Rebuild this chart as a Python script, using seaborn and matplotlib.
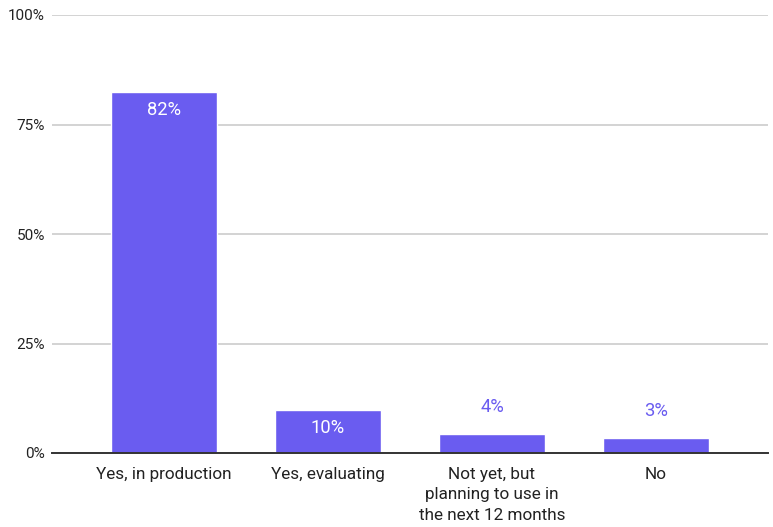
import matplotlib
matplotlib.use("Agg")
import matplotlib.pyplot as plt
import seaborn as sns
from matplotlib.ticker import PercentFormatter

sns.set_theme(style="white")
plt.rcParams['font.family'] = ['Roboto', 'DejaVu Sans']

# Data
categories = ["Yes, in production", "Yes, evaluating",
              "Not yet, but\nplanning to use in\nthe next 12 months", "No"]
shares = [82.4, 9.8, 4.3, 3.4]
bar_color = "#6a5cf0"

fig = plt.figure(figsize=(7.73, 5.27), dpi=100)
ax = fig.add_axes([52 / 773, 74 / 527, 716 / 773, 438 / 527])

sns.barplot(x=categories, y=shares, color=bar_color, saturation=1,
            width=0.646, ax=ax)

ax.set_ylim(0, 100)
ax.set_xlim(-0.683, 3.683)
ax.set_yticks([0, 25, 50, 75, 100])
ax.yaxis.set_major_formatter(PercentFormatter(decimals=0))
ax.grid(axis="y", color="#cccccc", linewidth=1.2)
ax.set_axisbelow(True)
for side in ["left", "right", "top"]:
    ax.spines[side].set_visible(False)
ax.spines["bottom"].set_color("#333333")
ax.spines["bottom"].set_linewidth(1.4)
ax.spines["bottom"].set_zorder(3)
ax.tick_params(axis="y", length=0, pad=5, labelsize=11, labelcolor="#222222")
ax.tick_params(axis="x", length=0, pad=10, labelsize=12.3, labelcolor="#222222")
for lbl in ax.get_xticklabels():
    lbl.set_linespacing(1.45)
ax.set_xlabel("")
ax.set_ylabel("")

# Value labels: inside for tall bars, above for short ones
for i, v in enumerate(shares):
    if v > 8:
        ax.annotate(f"{v:.0f}%", (i, v), xytext=(0, -18), textcoords="offset pixels",
                    ha="center", va="center", color="white", fontsize=13.2)
    else:
        ax.annotate(f"{v:.0f}%", (i, v), xytext=(0, 27), textcoords="offset pixels",
                    ha="center", va="center", color=bar_color, fontsize=13.2)

plt.savefig("out.png", dpi=100)
plt.close()
